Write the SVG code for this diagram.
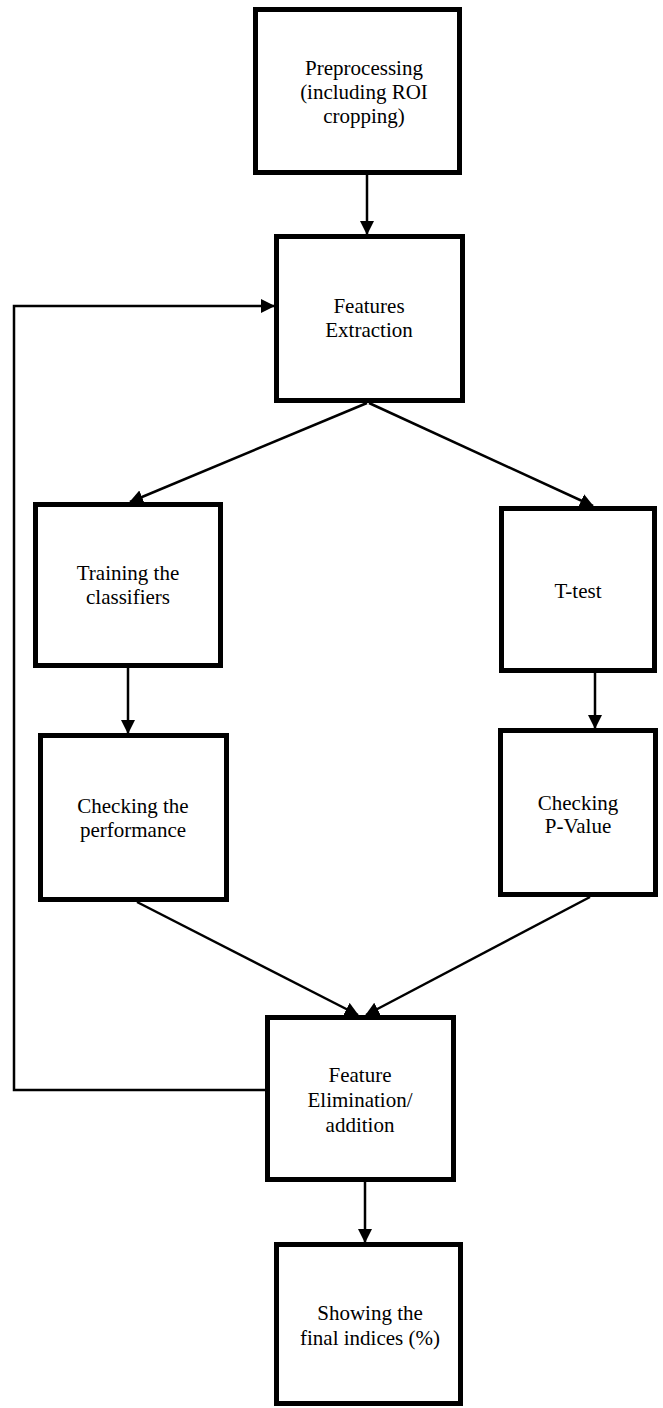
<svg xmlns="http://www.w3.org/2000/svg" width="663" height="1408" viewBox="0 0 663 1408">
<style>
.box{fill:#fff;stroke:#000;stroke-width:5;stroke-linejoin:miter}
.lbl{font-family:"Liberation Serif","Times New Roman",serif;font-size:21px;fill:#000;text-anchor:middle}
.con{fill:none;stroke:#000;stroke-width:2.5}
</style>
<defs>
<marker id="ah" markerUnits="userSpaceOnUse" markerWidth="15" markerHeight="15" refX="13" refY="7" orient="auto">
<path d="M0,0 L14,7 L0,14 z" fill="#000"/>
</marker>
</defs>
<rect x="0" y="0" width="663" height="1408" fill="#fff"/>
<g id="connectors">
<line class="con" x1="367" y1="175" x2="367" y2="234" marker-end="url(#ah)"/>
<polyline class="con" points="265,1090 14,1090 14,306 274,306" marker-end="url(#ah)"/>
<line class="con" x1="367" y1="403" x2="130" y2="502" marker-end="url(#ah)"/>
<line class="con" x1="369" y1="403" x2="593" y2="506" marker-end="url(#ah)"/>
<line class="con" x1="128" y1="668" x2="128" y2="733" marker-end="url(#ah)"/>
<line class="con" x1="595" y1="673" x2="595" y2="728" marker-end="url(#ah)"/>
<line class="con" x1="137" y1="902" x2="358" y2="1015" marker-end="url(#ah)"/>
<line class="con" x1="590" y1="897" x2="366" y2="1015" marker-end="url(#ah)"/>
<line class="con" x1="365" y1="1182" x2="365" y2="1242" marker-end="url(#ah)"/>
</g>
<g id="preprocessing">
<rect class="box" x="255.5" y="9.5" width="204" height="163"/>
<text class="lbl" x="364" y="75">Preprocessing</text>
<text class="lbl" x="364" y="99">(including ROI</text>
<text class="lbl" x="364" y="123">cropping)</text>
</g>
<g id="features-extraction">
<rect class="box" x="276.5" y="236.5" width="186" height="164"/>
<text class="lbl" x="369" y="313">Features</text>
<text class="lbl" x="369" y="337">Extraction</text>
</g>
<g id="training">
<rect class="box" x="35.5" y="504.5" width="185" height="161"/>
<text class="lbl" x="128" y="580">Training the</text>
<text class="lbl" x="128" y="604">classifiers</text>
</g>
<g id="t-test">
<rect class="box" x="501.5" y="508.5" width="153" height="162"/>
<text class="lbl" x="578" y="598">T-test</text>
</g>
<g id="checking-performance">
<rect class="box" x="40.5" y="735.5" width="186" height="164"/>
<text class="lbl" x="133" y="813">Checking the</text>
<text class="lbl" x="133" y="837">performance</text>
</g>
<g id="checking-pvalue">
<rect class="box" x="500.5" y="730.5" width="155" height="164"/>
<text class="lbl" x="578" y="810">Checking</text>
<text class="lbl" x="578" y="833">P-Value</text>
</g>
<g id="feature-elimination">
<rect class="box" x="267.5" y="1017.5" width="186" height="162"/>
<text class="lbl" x="360" y="1082">Feature</text>
<text class="lbl" x="360" y="1107">Elimination/</text>
<text class="lbl" x="360" y="1132">addition</text>
</g>
<g id="final-indices">
<rect class="box" x="276.5" y="1244.5" width="184" height="159"/>
<text class="lbl" x="370" y="1320">Showing the</text>
<text class="lbl" x="370" y="1345">final indices (%)</text>
</g>
</svg>
